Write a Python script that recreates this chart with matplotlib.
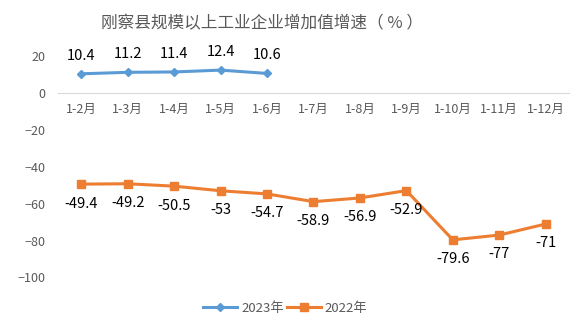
import matplotlib.pyplot as plt

plt.rcParams['font.family'] = ['Noto Sans CJK SC', 'DejaVu Sans']

months = ["1-2月", "1-3月", "1-4月", "1-5月", "1-6月", "1-7月",
          "1-8月", "1-9月", "1-10月", "1-11月", "1-12月"]
v2023 = [10.4, 11.2, 11.4, 12.4, 10.6]
v2022 = [-49.4, -49.2, -50.5, -53, -54.7, -58.9, -56.9, -52.9, -79.6, -77, -71]
lbl2022 = ["-49.4", "-49.2", "-50.5", "-53", "-54.7", "-58.9", "-56.9",
           "-52.9", "-79.6", "-77", "-71"]

blue = "#5B9BD5"
orange = "#ED7D31"
gray = "#595959"

fig = plt.figure(figsize=(5.76, 3.28), dpi=100)
ax = fig.add_axes([0.1007, 0.154, 0.887, 0.675])

x23 = list(range(len(v2023)))
x22 = list(range(len(v2022)))
ax.plot(x23, v2023, color=blue, lw=2.2, marker="D", ms=4, label="2023年")
ax.plot(x22, v2022, color=orange, lw=2.2, marker="s", ms=6, label="2022年")

for i, v in zip(x23, v2023):
    ax.annotate(f"{v}", (i, v), xytext=(0, 13), textcoords="offset points",
                ha="center", va="center", fontsize=10.5, color="black")
for i, v in enumerate(v2022):
    ax.annotate(lbl2022[i], (i, v), xytext=(0, -14), textcoords="offset points",
                ha="center", va="center", fontsize=10.5, color="black")

ax.set_xlim(-0.5, len(months) - 0.5)
ax.set_ylim(-100, 20)
ax.set_yticks([20, 0, -20, -40, -60, -80, -100])
ax.set_xticks(range(len(months)))
ax.set_xticklabels(months)

for s in ["top", "right", "left"]:
    ax.spines[s].set_visible(False)
ax.spines["bottom"].set_position(("data", 0))
ax.spines["bottom"].set_color("#D9D9D9")
ax.tick_params(axis="both", length=0, labelsize=9, colors=gray)
ax.tick_params(axis="x", pad=7)
ax.tick_params(axis="y", pad=9)

fig.suptitle("刚察县规模以上工业企业增加值增速（ % ）", x=0.455, y=0.955,
             fontsize=12, color=gray)

ax.legend(loc="upper center", bbox_to_anchor=(0.445, -0.055), ncol=2,
          frameon=False, fontsize=9.5, labelcolor=gray, handlelength=2.6,
          columnspacing=0.2, handletextpad=0.3)

fig.savefig("out.png", dpi=100)
